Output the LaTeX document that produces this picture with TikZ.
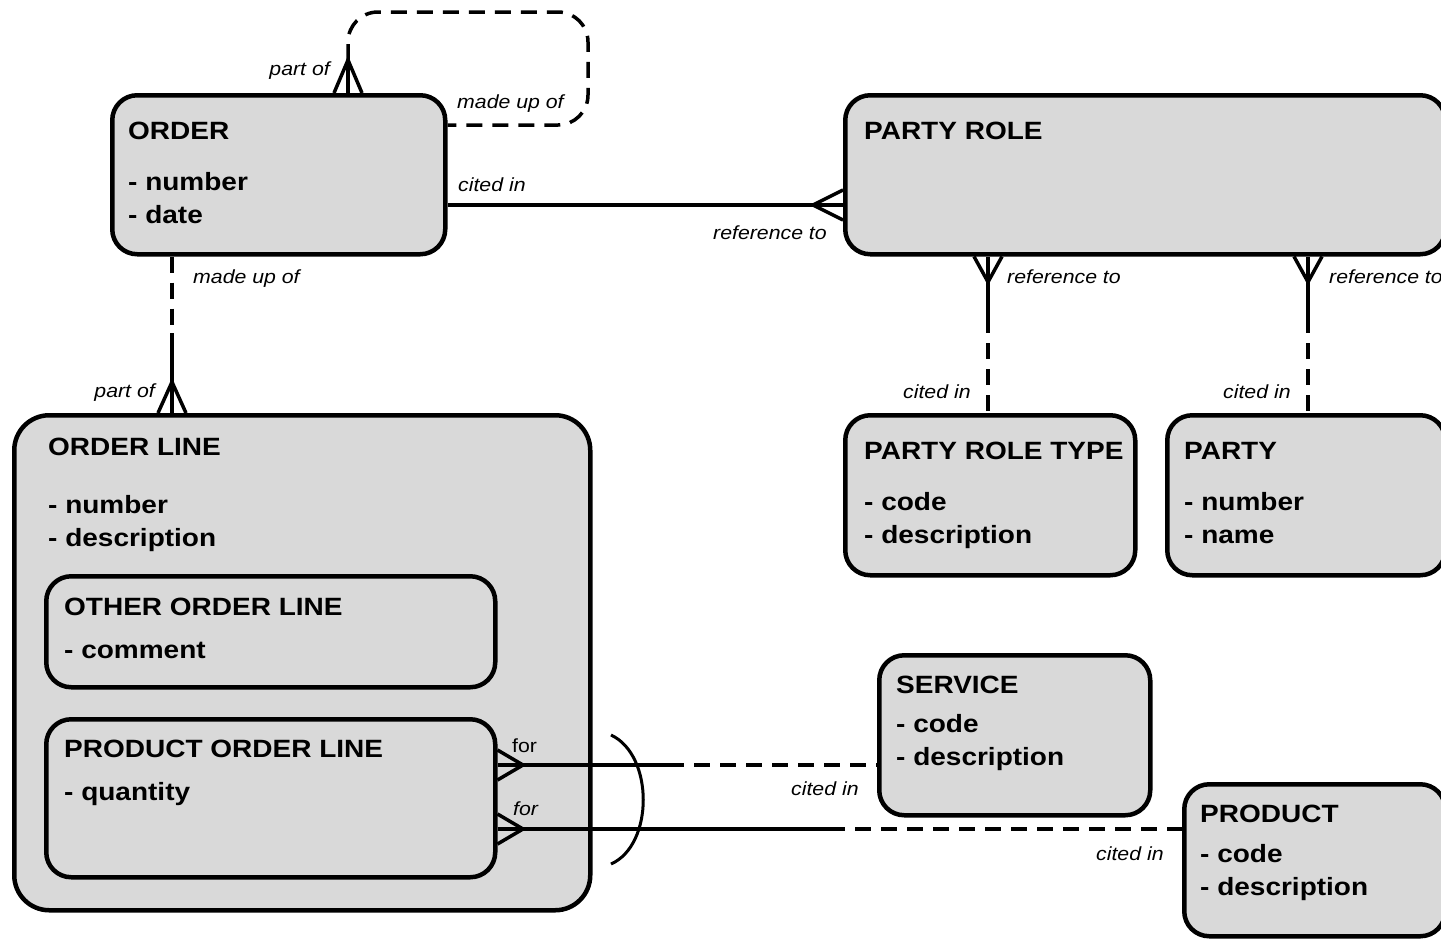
\documentclass[tikz,border=0pt]{standalone}
\usepackage{fontspec}
\newfontfamily\erfont[FakeStretch=1.12]{Liberation Sans}
\usetikzlibrary{calc}
\definecolor{boxgray}{RGB}{217,217,217}
\begin{document}
\begin{tikzpicture}[x=1pt,y=-1pt,
  box/.style={draw, line width=4.5pt, fill=boxgray, rounded corners=25pt, anchor=north west, inner sep=0pt},
  bigbox/.style={box, rounded corners=35pt},
  rel/.style={line width=3.5pt},
  reldash/.style={rel, dash pattern=on 16pt off 10pt},
  reldashoff/.style={rel, dash pattern=on 16pt off 10pt, dash phase=16pt},
  ttl/.style={font=\erfont\bfseries\fontsize{25}{29}\selectfont, anchor=base west, inner sep=0pt},
  lbl/.style={font=\erfont\itshape\fontsize{19}{23}\selectfont, anchor=base west, inner sep=0pt},
  lblup/.style={font=\erfont\fontsize{19}{23}\selectfont, anchor=base west, inner sep=0pt}]
\useasboundingbox (0,0) rectangle (1441,938);
\clip (0,0) rectangle (1441,938);

% boxes
\node[box, minimum width=333pt, minimum height=159pt] (order) at (110,93) {};
\node[box, minimum width=600pt, minimum height=159pt] (partyrole) at (843,93) {};
\node[bigbox, minimum width=576pt, minimum height=495pt] (orderline) at (12,413) {};
\node[box, minimum width=449pt, minimum height=111pt] (other) at (44,574) {};
\node[box, minimum width=449pt, minimum height=158pt] (prodline) at (44,717) {};
\node[box, minimum width=290pt, minimum height=160pt] (prt) at (843,413) {};
\node[box, minimum width=278pt, minimum height=160pt] (party) at (1165,413) {};
\node[box, minimum width=271pt, minimum height=160pt] (service) at (877,653) {};
\node[box, minimum width=261pt, minimum height=152pt] (product) at (1182,782) {};

% box texts
\node[ttl] (orderT) at (128,139) {ORDER};
\node[ttl] (orderA) at (128,190) {- number};
\node[ttl] (orderB) at (128,223) {- date};
\node[ttl] (partyroleT) at (864,139) {PARTY ROLE};
\node[ttl] (orderlineT) at (48,455) {ORDER LINE};
\node[ttl] (orderlineA) at (48,513) {- number};
\node[ttl] (orderlineB) at (48,546) {- description};
\node[ttl] (otherT) at (64,615) {OTHER ORDER LINE};
\node[ttl] (otherA) at (64,658) {- comment};
\node[ttl] (prodlineT) at (64,757) {PRODUCT ORDER LINE};
\node[ttl] (prodlineA) at (64,800) {- quantity};
\node[ttl] (prtT) at (864,459) {PARTY ROLE TYPE};
\node[ttl] (prtA) at (864,510) {- code};
\node[ttl] (prtB) at (864,543) {- description};
\node[ttl] (partyT) at (1184,459) {PARTY};
\node[ttl] (partyA) at (1184,510) {- number};
\node[ttl] (partyB) at (1184,543) {- name};
\node[ttl] (serviceT) at (896,693) {SERVICE};
\node[ttl] (serviceA) at (896,732) {- code};
\node[ttl] (serviceB) at (896,765) {- description};
\node[ttl] (productT) at (1200,822) {PRODUCT};
\node[ttl] (productA) at (1200,862) {- code};
\node[ttl] (productB) at (1200,895) {- description};

% ORDER self relationship
\coordinate (loopA) at (348,60);
\draw[rel] (order.north -| 348,0) -- (loopA);
\draw[rel] (order.north -| 334,0) -- (loopA) -- (order.north -| 362,0);
\draw[reldash, rounded corners=30pt] (loopA) -- (348,12) -- (588,12) -- (588,125) -- (order.east |- 0,125);

% ORDER - PARTY ROLE
\draw[rel] (order.east |- 0,205) -- (partyrole.west |- 0,205);
\draw[rel] (partyrole.west |- 0,190) -- (813,205) -- (partyrole.west |- 0,220);

% ORDER - ORDER LINE
\coordinate (olA) at (172,333);
\draw[reldash] (order.south -| 172,0) -- (olA);
\draw[rel] (olA) -- (orderline.north -| 172,0);
\draw[rel] (orderline.north -| 158,0) -- (172,382) -- (orderline.north -| 186,0);

% PARTY ROLE - PARTY ROLE TYPE
\coordinate (prtA1) at (988,333);
\draw[rel] (partyrole.south -| 988,0) -- (prtA1);
\draw[reldashoff] (prtA1) -- (prt.north -| 988,0);
\draw[rel] (partyrole.south -| 974,0) -- (988,282) -- (partyrole.south -| 1002,0);

% PARTY ROLE - PARTY
\coordinate (pA1) at (1308,333);
\draw[rel] (partyrole.south -| 1308,0) -- (pA1);
\draw[reldashoff] (pA1) -- (party.north -| 1308,0);
\draw[rel] (partyrole.south -| 1294,0) -- (1308,282) -- (partyrole.south -| 1322,0);

% PRODUCT ORDER LINE - SERVICE
\coordinate (sA) at (684,765);
\draw[rel] (prodline.east |- 0,765) -- (sA);
\draw[reldashoff] (sA) -- (service.west |- 0,765);
\draw[rel] (prodline.east |- 0,750) -- (523,765) -- (prodline.east |- 0,780);

% PRODUCT ORDER LINE - PRODUCT
\coordinate (pdA) at (845,829);
\draw[rel] (prodline.east |- 0,829) -- (pdA);
\draw[reldashoff] (pdA) -- (product.west |- 0,829);
\draw[rel] (prodline.east |- 0,814) -- (523,829) -- (prodline.east |- 0,844);

% exclusive arc
\draw[line width=3pt] (611,735) .. controls (654,755) and (654,845) .. (611,864);

% labels
\node[lbl, anchor=base east] (l1) at (330,75) {part of};
\node[lbl] (l2) at (457,108) {made up of};
\node[lbl] (l3) at (458,191) {cited in};
\node[lbl] (l4) at (713,239) {reference to};
\node[lbl] (l5) at (193,283) {made up of};
\node[lbl, anchor=base east] (l6) at (155,397) {part of};
\node[lbl] (l7) at (1007,283) {reference to};
\node[lbl] (l8) at (1329,283) {reference to};
\node[lbl] (l9) at (903,398) {cited in};
\node[lbl] (l10) at (1223,398) {cited in};
\node[lblup] (l11) at (512,752) {for};
\node[lbl] (l12) at (513,815) {for};
\node[lbl] (l13) at (791,795) {cited in};
\node[lbl] (l14) at (1096,860) {cited in};
\end{tikzpicture}
\end{document}
